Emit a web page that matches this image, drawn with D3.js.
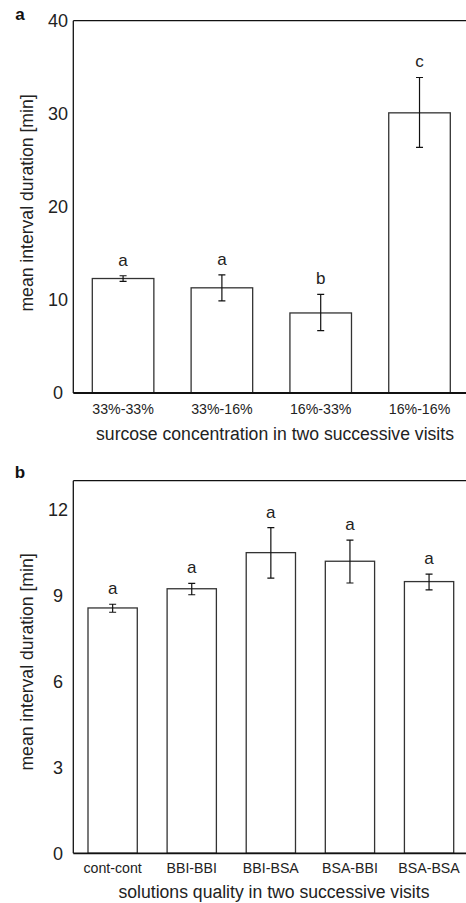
<!DOCTYPE html>
<html>
<head>
<meta charset="utf-8">
<script src="https://cdn.jsdelivr.net/npm/d3@7"></script>
<style>
  body { margin: 0; background: #fff; }
  svg { display: block; font-family: 'Liberation Sans', Arial, sans-serif; }
</style>
</head>
<body>
<svg id="chart" width="466" height="903"></svg>
<script>
// DATA
let catsA = ['33%-33%', '33%-16%', '16%-33%', '16%-16%'];
let meanA = [12.3, 11.3, 8.6, 30.1];
let errLoA = [12.0, 9.9, 6.7, 26.4];
let errHiA = [12.6, 12.7, 10.6, 33.9];
let letterA = ['a', 'a', 'b', 'c'];
let ticksA = [0, 10, 20, 30, 40];

let catsB = ['cont-cont', 'BBI-BBI', 'BBI-BSA', 'BSA-BBI', 'BSA-BSA'];
let meanB = [8.56, 9.23, 10.49, 10.19, 9.48];
let errLoB = [8.41, 9.02, 9.6, 9.43, 9.19];
let errHiB = [8.69, 9.42, 11.36, 10.93, 9.74];
let letterB = ['a', 'a', 'a', 'a', 'a'];
let ticksB = [0, 3, 6, 9, 12];

let svg = d3.select('#chart');

// draws one panel
function panel(opt) {
  let g = svg.append('g');
  let rows = opt.cats.map((c, i) => ({
    cat: c, mean: opt.mean[i], lo: opt.lo[i], hi: opt.hi[i], letter: opt.letter[i]
  }));

  let yScale = d3.scaleLinear().domain(opt.domain).range([opt.bottom, opt.top]);
  let xScale = d3.scaleBand()
    .domain(opt.cats)
    .range([opt.left + opt.padL, opt.right + opt.padR])
    .paddingInner(opt.inner)
    .paddingOuter(0);

  // top frame line
  g.append('line')
    .attr('x1', opt.left).attr('x2', 466)
    .attr('y1', opt.top).attr('y2', opt.top)
    .attr('stroke', '#111').attr('stroke-width', 1.3);

  // y axis line
  g.append('line')
    .attr('x1', opt.left).attr('x2', opt.left)
    .attr('y1', opt.top).attr('y2', opt.bottom)
    .attr('stroke', '#111').attr('stroke-width', 1.3);

  // y tick labels
  g.selectAll('.ytick')
    .data(opt.ticks)
    .join('text')
    .attr('class', 'ytick')
    .attr('x', 58)
    .attr('y', d => yScale(d))
    .attr('dy', '0.36em')
    .attr('text-anchor', 'middle')
    .attr('font-size', 18)
    .attr('fill', '#222')
    .text(d => d);

  // bars
  g.selectAll('.bar')
    .data(rows)
    .join('rect')
    .attr('class', 'bar')
    .attr('x', d => xScale(d.cat))
    .attr('y', d => yScale(d.mean))
    .attr('width', xScale.bandwidth())
    .attr('height', d => yScale(0) - yScale(d.mean))
    .attr('fill', '#fff')
    .attr('stroke', '#333')
    .attr('stroke-width', 1.3);

  // error bars
  let cx = d => xScale(d.cat) + xScale.bandwidth() / 2;
  g.selectAll('.err')
    .data(rows)
    .join('path')
    .attr('class', 'err')
    .attr('d', d => {
      let x = cx(d), y1 = yScale(d.hi), y2 = yScale(d.lo);
      return `M${x},${y1}V${y2}M${x - 3.5},${y1}H${x + 3.5}M${x - 3.5},${y2}H${x + 3.5}`;
    })
    .attr('fill', 'none')
    .attr('stroke', '#111')
    .attr('stroke-width', 1.2);

  // significance letters
  g.selectAll('.letter')
    .data(rows)
    .join('text')
    .attr('class', 'letter')
    .attr('x', cx)
    .attr('y', d => yScale(d.hi) - 10)
    .attr('text-anchor', 'middle')
    .attr('font-size', 17)
    .attr('fill', '#222')
    .text(d => d.letter);

  // bottom axis line
  g.append('line')
    .attr('x1', opt.left).attr('x2', 466)
    .attr('y1', opt.bottom).attr('y2', opt.bottom)
    .attr('stroke', '#111').attr('stroke-width', 1.8);

  // x tick labels
  g.selectAll('.xtick')
    .data(opt.cats)
    .join('text')
    .attr('class', 'xtick')
    .attr('x', d => xScale(d) + xScale.bandwidth() / 2)
    .attr('y', opt.bottom + opt.tickOff)
    .attr('dy', '0.36em')
    .attr('text-anchor', 'middle')
    .attr('font-size', 14.2)
    .attr('fill', '#222')
    .text(d => d);

  // axis titles
  g.append('text')
    .attr('x', opt.xTitleX)
    .attr('y', opt.bottom + opt.titleOff)
    .attr('dy', '0.36em')
    .attr('text-anchor', 'middle')
    .attr('font-size', 17.6)
    .attr('fill', '#222')
    .text(opt.xTitle);

  g.append('text')
    .attr('transform', `translate(27,${opt.yTitleY}) rotate(-90)`)
    .attr('dy', '0.36em')
    .attr('text-anchor', 'middle')
    .attr('font-size', 17.6)
    .attr('fill', '#222')
    .text('mean interval duration [min]');

  // panel letter
  g.append('text')
    .attr('x', 20)
    .attr('y', opt.labelY)
    .attr('dy', '0.36em')
    .attr('text-anchor', 'middle')
    .attr('font-size', 17)
    .attr('font-weight', 'bold')
    .attr('fill', '#111')
    .text(opt.label);
}

panel({
  cats: catsA, mean: meanA, lo: errLoA, hi: errHiA, letter: letterA, ticks: ticksA,
  domain: [0, 40], top: 20.7, bottom: 393, left: 73.3, right: 466,
  padL: 19, padR: -15.7, inner: 0.377, tickOff: 16, titleOff: 41,
  xTitle: 'surcose concentration in two successive visits', xTitleX: 275,
  yTitleY: 203, label: 'a', labelY: 14
});

panel({
  cats: catsB, mean: meanB, lo: errLoB, hi: errHiB, letter: letterB, ticks: ticksB,
  domain: [0, 13], top: 480.7, bottom: 853.3, left: 73.3, right: 466,
  padL: 14.7, padR: -12.3, inner: 0.377, tickOff: 14.5, titleOff: 38.5,
  xTitle: 'solutions quality in two successive visits', xTitleX: 274,
  yTitleY: 662, label: 'b', labelY: 472
});
</script>
</body>
</html>
